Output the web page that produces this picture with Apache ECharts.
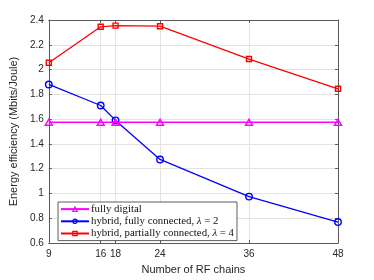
<!DOCTYPE html>
<html><head><meta charset="utf-8">
<script src="https://cdn.jsdelivr.net/npm/echarts@6/dist/echarts.min.js"></script>
<style>html,body{margin:0;padding:0;background:#fff}#c{width:374px;height:280px}</style>
</head><body><div id="c"></div>
<script>
var rfChains = [9, 16, 18, 24, 36, 48];
var fullyDigital = [1.575, 1.575, 1.575, 1.575, 1.575, 1.575];
var hybridFull = [1.88, 1.71, 1.59, 1.275, 0.975, 0.77];
var hybridPartial = [2.055, 2.345, 2.355, 2.35, 2.085, 1.845];
var yTicks = [0.6, 0.8, 1, 1.2, 1.4, 1.6, 1.8, 2, 2.2, 2.4];
var seriesNames = ['fully digital', 'hybrid, fully connected, λ = 2', 'hybrid, partially connected, λ = 4'];

function pairs(ys){ return rfChains.map(function(x,i){ return [x, ys[i]]; }); }

var chart = echarts.init(document.getElementById('c'), null, {renderer:'canvas'});
var axisCol = '#262626';
var gridCol = '#e3e3e3';
var frameCol = '#5a5a5a';
function xAx(pos, show){
  return {
    type:'value', position:pos, min:9, max:48,
    axisLine:{show:true, onZero:false, lineStyle:{color:frameCol, width:1}},
    axisTick:{show:true, inside:true, length:3, customValues:rfChains, lineStyle:{color:frameCol}},
    axisLabel:{show:show, customValues:rfChains, color:axisCol, fontSize:10, fontFamily:'Liberation Sans', margin:6},
    splitLine:{show:show, lineStyle:{color:gridCol, width:1}},
    name: show ? 'Number of RF chains' : '', nameLocation:'middle', nameGap:20,
    nameTextStyle:{color:axisCol, fontSize:11, fontFamily:'Liberation Sans'}
  };
}
function yAx(pos, show){
  return {
    type:'value', position:pos, min:0.6, max:2.4, interval:0.2,
    axisLine:{show:true, onZero:false, lineStyle:{color:frameCol, width:1}},
    axisTick:{show:true, inside:true, length:3, lineStyle:{color:frameCol}},
    axisLabel:{show:show, color:axisCol, fontSize:10, fontFamily:'Liberation Sans', margin:5,
      formatter:function(v){ return String(Math.round(v*10)/10); }},
    splitLine:{show:show, lineStyle:{color:gridCol, width:1}},
    name: show ? 'Energy efficiency (Mbits/Joule)' : '', nameLocation:'middle', nameGap:23,
    nameTextStyle:{color:axisCol, fontSize:11, fontFamily:'Liberation Sans'}
  };
}
var colors = ['#ff00ff', '#0000ff', '#ff0000'];
var symbols = ['triangle', 'circle', 'rect'];
var sizes = [[7, 6], 6.5, 5];
var datas = [fullyDigital, hybridFull, hybridPartial];
var series = seriesNames.map(function(n,i){
  return {
    name:n, type:'line', xAxisIndex:0, yAxisIndex:0, data:pairs(datas[i]),
    symbol:symbols[i], symbolSize:sizes[i], showAllSymbol:true,
    lineStyle:{color:colors[i], width:1.3},
    itemStyle:{color:'rgba(255,255,255,0)', borderColor:colors[i], borderWidth:1.4},
    emphasis:{disabled:true}, animation:false, z: 3 - i
  };
});
chart.setOption({
  animation:false,
  grid:{left:48, right:36, top:20, bottom:32, containLabel:false},
  xAxis:[xAx('bottom', true), xAx('top', false)],
  yAxis:[yAx('left', true), yAx('right', false)],
  legend:{
    orient:'vertical', left:58, top:202, itemWidth:28, itemHeight:5.5, itemGap:0,
    padding:[1,3,1,2], backgroundColor:'#fff', borderColor:'#333', borderWidth:0.8,
    data:seriesNames,
    itemStyle:{color:'transparent', borderColor:'inherit', borderWidth:1.2},
    formatter:function(n){ return n.replace('λ', '{i|λ}'); },
    textStyle:{color:'#111', fontSize:10.8, lineHeight:12.2, fontFamily:'Liberation Serif', padding:[0,0,0,-3],
      rich:{i:{fontStyle:'italic', fontSize:10.8, lineHeight:12.2, fontFamily:'Liberation Serif', color:'#111'}}}
  },
  series:series
});
</script></body></html>
